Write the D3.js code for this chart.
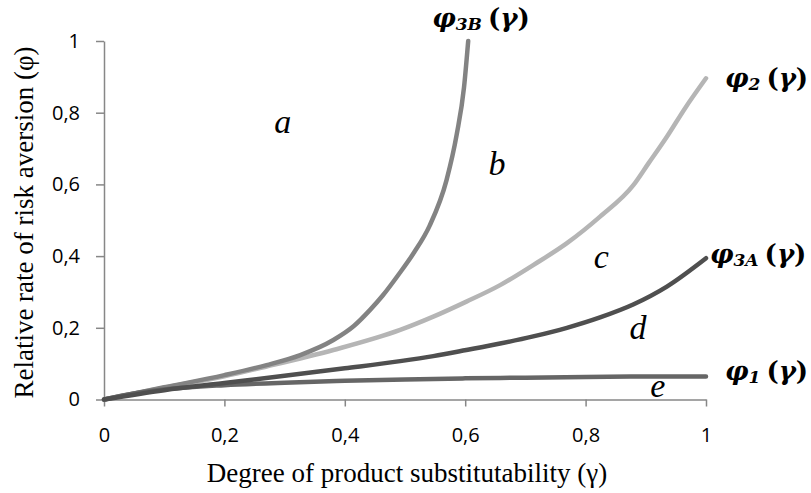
<!DOCTYPE html>
<html>
<head>
<meta charset="utf-8">
<script src="https://cdn.jsdelivr.net/npm/d3@7"></script>
<style>
  html, body { margin: 0; padding: 0; background: #fff; }
  svg { display: block; }
</style>
</head>
<body>
<svg id="chart" width="811" height="493"></svg>
<script>
// Axis ticks
const xTicks = [0, 0.2, 0.4, 0.6, 0.8, 1];
const yTicks = [0, 0.2, 0.4, 0.6, 0.8, 1];

// φ3B(γ): threshold curve rising steeply to 1 near γ ≈ 0.6
const phi3BGamma = [0, 0.1, 0.2, 0.27, 0.326, 0.381, 0.415, 0.442, 0.463, 0.49, 0.515, 0.541, 0.569, 0.586, 0.598, 0.605];
const phi3BValue = [0, 0.034, 0.068, 0.096, 0.124, 0.166, 0.205, 0.25, 0.29, 0.35, 0.41, 0.485, 0.612, 0.74, 0.87, 1.0];

// φ2(γ)
const phi2Gamma = [0, 0.1, 0.2, 0.27, 0.381, 0.492, 0.547, 0.602, 0.658, 0.713, 0.769, 0.824, 0.879, 0.905, 0.935, 0.965, 1];
const phi2Value = [0, 0.033, 0.065, 0.092, 0.138, 0.194, 0.231, 0.273, 0.319, 0.375, 0.436, 0.510, 0.597, 0.66, 0.733, 0.812, 0.896];

// φ3A(γ)
const phi3AGamma = [0, 0.1, 0.2, 0.3, 0.4, 0.492, 0.547, 0.602, 0.658, 0.713, 0.769, 0.824, 0.879, 0.935, 1];
const phi3AValue = [0, 0.026, 0.046, 0.066, 0.087, 0.107, 0.121, 0.138, 0.156, 0.176, 0.200, 0.229, 0.265, 0.315, 0.394];

// φ1(γ): saturates just above 0.06
const phi1Gamma = [0, 0.05, 0.1, 0.2, 0.3, 0.4, 0.5, 0.6, 0.7, 0.8, 0.9, 1];
const phi1Value = [0, 0.017, 0.028, 0.040, 0.047, 0.052, 0.056, 0.059, 0.061, 0.063, 0.064, 0.064];

// Curve label subscripts
const seriesSubs = ["3B", "2", "3A", "1"];

// Region letters and their (γ, φ) anchor positions
const regionLetters = ["a", "b", "c", "d", "e"];
const regionGamma = [0.297, 0.653, 0.826, 0.887, 0.920];
const regionPhi = [0.743, 0.626, 0.366, 0.170, 0.008];

const svg = d3.select("#chart");
const x = d3.scaleLinear().domain([0, 1]).range([104, 706]);
const y = d3.scaleLinear().domain([0, 1]).range([399.5, 41]);

const fmt = d => String(d).replace(".", ",");
const axisColor = "#878787";

// Y axis
const yAxis = svg.append("g")
  .attr("transform", `translate(${x(0)},0)`)
  .call(d3.axisLeft(y).tickValues(yTicks).tickSize(8).tickSizeOuter(0).tickPadding(16).tickFormat(fmt));
// X axis
const xAxis = svg.append("g")
  .attr("transform", `translate(0,${y(0)})`)
  .call(d3.axisBottom(x).tickValues(xTicks).tickSize(7).tickSizeOuter(0).tickPadding(21).tickFormat(fmt));

[yAxis, xAxis].forEach(g => {
  g.select(".domain").attr("stroke", axisColor).attr("stroke-width", 1.5);
  g.selectAll(".tick line").attr("stroke", axisColor).attr("stroke-width", 1.5);
  g.selectAll(".tick text")
    .attr("fill", "#000")
    .style("font-family", "'Open Sans', sans-serif")
    .style("font-size", "20px");
});

// Axis titles
svg.append("text")
  .attr("x", 407).attr("y", 482)
  .attr("text-anchor", "middle")
  .style("font-family", "'Liberation Serif', 'Times New Roman', serif")
  .style("font-size", "27px")
  .text("Degree of product substitutability (γ)");

svg.append("text")
  .attr("transform", "translate(33,222.5) rotate(-90)")
  .attr("text-anchor", "middle")
  .style("font-family", "'Liberation Serif', 'Times New Roman', serif")
  .style("font-size", "27px")
  .text("Relative rate of risk aversion (φ)");

// Curves
const line = d3.line()
  .x(d => x(d[0]))
  .y(d => y(d[1]))
  .curve(d3.curveMonotoneX);

const series = [
  { gamma: phi2Gamma, value: phi2Value, color: "#b5b5b5", sub: seriesSubs[1], dx: 19, dy: 9 },
  { gamma: phi3BGamma, value: phi3BValue, color: "#838383", sub: seriesSubs[0], dx: -36, dy: -14 },
  { gamma: phi1Gamma, value: phi1Value, color: "#666666", sub: seriesSubs[3], dx: 19, dy: 3 },
  { gamma: phi3AGamma, value: phi3AValue, color: "#4f4f4f", sub: seriesSubs[2], dx: 4, dy: 5 }
];

series.forEach(s => {
  const pts = s.gamma.map((g, i) => [g, s.value[i]]);
  svg.append("path")
    .datum(pts)
    .attr("d", line)
    .attr("fill", "none")
    .attr("stroke", s.color)
    .attr("stroke-width", 4.5)
    .attr("stroke-linecap", "round")
    .attr("stroke-linejoin", "round");

  // Label next to the end of the curve
  const last = pts[pts.length - 1];
  const t = svg.append("text")
    .attr("x", x(last[0]) + s.dx)
    .attr("y", y(last[1]) + s.dy)
    .style("font-family", "'DejaVu Serif', serif")
    .style("font-weight", "bold")
    .style("font-size", "26px");
  t.append("tspan").style("font-style", "italic").text("φ");
  t.append("tspan").style("font-style", "italic").style("font-size", "17px")
    .attr("dy", 3).text(s.sub);
  t.append("tspan").attr("dy", -3).attr("dx", 6).text("(");
  t.append("tspan").style("font-style", "italic").text("γ");
  t.append("tspan").text(")");
});

// Region letters
regionLetters.forEach((l, i) => {
  svg.append("text")
    .attr("x", x(regionGamma[i]))
    .attr("y", y(regionPhi[i]))
    .attr("text-anchor", "middle")
    .style("font-family", "'Liberation Serif', 'Times New Roman', serif")
    .style("font-style", "italic")
    .style("font-size", "34px")
    .text(l);
});
</script>
</body>
</html>
